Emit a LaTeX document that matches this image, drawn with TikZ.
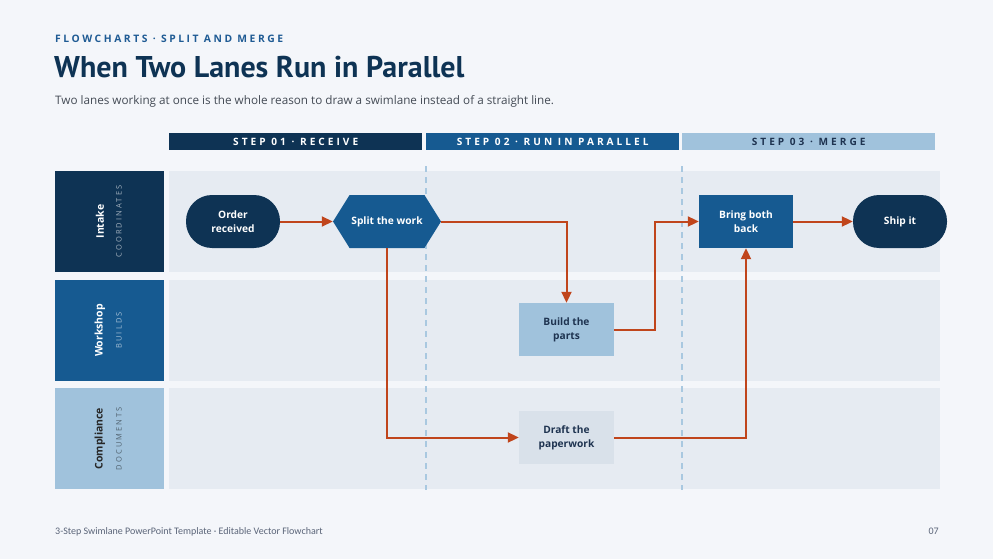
\documentclass[tikz,border=0pt]{standalone}
\usepackage{fontspec}
\setmainfont{Open Sans}
\newfontfamily\titlefont{PT Sans}
\newfontfamily\footfont{Carlito}
\newfontfamily\spacedfont[LetterSpace=25]{Open Sans}
\newfontfamily\stepfont[LetterSpace=30]{Open Sans}
\newfontfamily\lanesubfont[LetterSpace=28]{Open Sans}
\usetikzlibrary{arrows.meta,shapes.symbols}
\definecolor{bg}{HTML}{F4F6FA}
\definecolor{navy}{HTML}{0E3354}
\definecolor{mid}{HTML}{165A91}
\definecolor{light}{HTML}{A0C2DC}
\definecolor{lanebg}{HTML}{E6EBF2}
\definecolor{pale}{HTML}{D9E1EA}
\definecolor{flow}{HTML}{C0451C}
\definecolor{guide}{HTML}{A9C8E0}
\definecolor{ink}{HTML}{1E3350}
\definecolor{subtxt}{HTML}{444B55}
\definecolor{kicker}{HTML}{1F5B94}
\definecolor{footc}{HTML}{5A6478}
\tikzset{
  stepbar/.style={fill=#1, minimum width=253pt, minimum height=17pt, inner sep=0pt, anchor=north west,
    font=\stepfont\bfseries\fontsize{10.1}{10}\selectfont},
  lanebox/.style={fill=#1, minimum width=109pt, minimum height=101pt, inner sep=0pt, anchor=north west},
  lanebody/.style={fill=lanebg, minimum width=771pt, minimum height=101pt, inner sep=0pt, anchor=north west},
  lanename/.style={rotate=90, font=\bfseries\fontsize{10.5}{12}\selectfont, inner sep=0pt},
  lanesub/.style={rotate=90, font=\lanesubfont\fontsize{7.5}{8}\selectfont, inner sep=0pt},
  terminal/.style={fill=navy, text=white, rounded corners=26pt, minimum width=94pt, minimum height=53pt,
    inner sep=0pt, align=center, font=\bfseries\fontsize{10.2}{14}\selectfont},
  procbox/.style={fill=#1, minimum width=95pt, minimum height=53pt, inner sep=0pt, align=center,
    font=\bfseries\fontsize{10.2}{14}\selectfont},
  flowline/.style={draw=flow, line width=2pt, -{Triangle[length=11pt,width=10pt]}},
  guideline/.style={draw=guide, line width=1.3pt, dash pattern=on 6pt off 5pt},
}
\begin{document}
\begin{tikzpicture}[x=1pt,y=-1pt]
\fill[bg] (0,0) rectangle (993,559);
\useasboundingbox (0,0) rectangle (993,559);

% header
\node[anchor=base west, inner sep=0pt, text=kicker, font=\spacedfont\bfseries\fontsize{10.3}{12}\selectfont] (kick) at (55,43) {FLOWCHARTS · SPLIT AND MERGE};
\node[anchor=base west, inner sep=0pt, text=navy, font=\titlefont\bfseries\fontsize{30}{34}\selectfont] (title) at (54,78) {When Two Lanes Run in Parallel};
\node[anchor=base west, inner sep=0pt, text=subtxt, font=\fontsize{11.7}{14}\selectfont] (subtitle) at (55,105) {Two lanes working at once is the whole reason to draw a swimlane instead of a straight line.};

% step bars
\node[stepbar=navy, text=white] (s1) at (169,133) {STEP 01 · RECEIVE};
\node[stepbar=mid, text=white] (s2) at (426,133) {STEP 02 · RUN IN PARALLEL};
\node[stepbar=light, text=ink] (s3) at (682,133) {STEP 03 · MERGE};

% lanes
\node[lanebox=navy] (l1) at (55,171) {};
\node[lanebox=mid] (l2) at (55,280) {};
\node[lanebox=light] (l3) at (55,388) {};
\node[lanebody] (b1) at (169,171) {};
\node[lanebody] (b2) at (169,280) {};
\node[lanebody] (b3) at (169,388) {};

\node[lanename, text=white] (n1) at (100,221.5) {Intake};
\node[lanesub, text=white!62!navy] (d1) at (119,221.5) {COORDINATES};
\node[lanename, text=white] (n2) at (100,330.5) {Workshop};
\node[lanesub, text=white!62!mid] (d2) at (119,330.5) {BUILDS};
\node[lanename, text=black!85] (n3) at (100,438.5) {Compliance};
\node[lanesub, text=black!50!light] (d3) at (119,438.5) {DOCUMENTS};

% guides
\coordinate (g1t) at (426,166);
\coordinate (g1b) at (426,490);
\coordinate (g2t) at (682,166);
\coordinate (g2b) at (682,490);
\draw[guideline] (g1t) -- (g1b);
\draw[guideline] (g2t) -- (g2b);

% nodes
\node[terminal] (order) at (233,221.5) {Order\\received};
\node[signal, signal to=west and east, signal pointer angle=116, fill=mid, text=white,
  minimum width=108pt, minimum height=53pt, inner sep=0pt, font=\bfseries\fontsize{10.2}{14}\selectfont] (split) at (387,221.5) {Split the work};
\node[procbox=mid, text=white, minimum width=94pt] (bring) at (746,221.5) {Bring both\\back};
\node[terminal] (ship) at (900,221.5) {Ship it};
\node[procbox=light, text=ink] (build) at (566.5,329.5) {Build the\\parts};
\node[procbox=pale, text=ink] (draft) at (566.5,437.5) {Draft the\\paperwork};

% connectors
\draw[flowline] (order.east) -- (split.west);
\draw[flowline] (split.east) -| (build.north);
\draw[flowline] (split.south) |- (draft.west);
\draw[flowline] (build.east) -- ++(41,0) |- (bring.west);
\draw[flowline] (draft.east) -| (bring.south);
\draw[flowline] (bring.east) -- (ship.west);

% footer
\node[anchor=base west, inner sep=0pt, text=footc, font=\footfont\fontsize{10}{12}\selectfont] (foot) at (55,534) {3-Step Swimlane PowerPoint Template · Editable Vector Flowchart};
\node[anchor=base east, inner sep=0pt, text=footc, font=\footfont\fontsize{10}{12}\selectfont] (page) at (939,534) {07};
\end{tikzpicture}
\end{document}
